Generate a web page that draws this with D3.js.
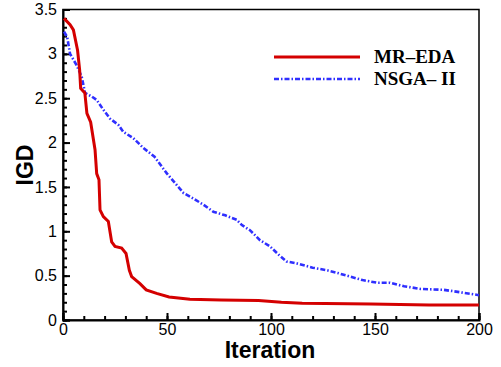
<!DOCTYPE html>
<html>
<head>
<meta charset="utf-8">
<script src="https://cdn.jsdelivr.net/npm/d3@7"></script>
<style>
  body { margin: 0; background: #fff; }
  .axis text { font-family: "Liberation Sans", Arial, sans-serif; font-size: 16px; fill: #000; }
  .axis path, .axis line { stroke: #000; stroke-width: 2px; }
</style>
</head>
<body>
<div id="chart"></div>
<script>
// MR-EDA (red, solid)
var mrIter = [0.5, 3.4, 5, 7, 8, 8.5, 10.5, 11.5, 13.3, 15.4, 16.2, 17.3, 17.8, 19.4, 21.8, 23.4, 25, 28.2, 30.3, 31.9, 33, 37, 40, 45, 51, 61, 76, 94, 105, 115, 148, 176, 200];
var mrIGD  = [3.40, 3.33, 3.27, 3.04, 2.82, 2.61, 2.56, 2.33, 2.23, 1.92, 1.65, 1.58, 1.24, 1.165, 1.11, 0.88, 0.83, 0.81, 0.75, 0.56, 0.49, 0.41, 0.34, 0.30, 0.26, 0.233, 0.225, 0.22, 0.20, 0.19, 0.18, 0.17, 0.17];

// NSGA-II (blue, dash-dot)
var nsIter = [0.5, 2, 3.4, 6.6, 9, 10.6, 13.8, 16.2, 19.4, 22.6, 26.6, 29, 33.8, 38.6, 44, 50, 58, 62.6, 67.5, 72.3, 78, 83.5, 86, 90, 94.7, 99.5, 104, 107.5, 112, 120, 127, 132, 138, 144, 151, 157, 164, 172, 183, 189, 200];
var nsIGD  = [3.25, 3.19, 3.0, 2.87, 2.74, 2.56, 2.52, 2.48, 2.37, 2.27, 2.20, 2.12, 2.05, 1.94, 1.84, 1.65, 1.43, 1.37, 1.30, 1.22, 1.18, 1.13, 1.07, 1.01, 0.90, 0.83, 0.73, 0.66, 0.64, 0.59, 0.56, 0.53, 0.49, 0.45, 0.42, 0.42, 0.38, 0.35, 0.34, 0.32, 0.28];

var xMajor = [0, 50, 100, 150, 200];
var yMajor = [0, 0.5, 1, 1.5, 2, 2.5, 3, 3.5];

var width = 501, height = 367;
var margin = {top: 9.5, right: 22, bottom: 47, left: 63};
var w = width - margin.left - margin.right,
    h = height - margin.top - margin.bottom;

var x = d3.scaleLinear().domain([0, 200]).range([0, w]);
var y = d3.scaleLinear().domain([0, 3.5]).range([h, 0]);

var svg = d3.select("#chart").append("svg")
    .attr("width", width)
    .attr("height", height);
var g = svg.append("g")
    .attr("transform", "translate(" + margin.left + "," + margin.top + ")");

// frame
g.append("rect")
    .attr("width", w).attr("height", h)
    .attr("fill", "none").attr("stroke", "#000").attr("stroke-width", 1.5);

// minor ticks
g.append("g").attr("class", "axis")
    .attr("transform", "translate(0," + h + ")")
    .call(d3.axisBottom(x).tickValues(d3.range(0, 201, 10)).tickSize(-4).tickFormat(""))
    .select(".domain").remove();
g.append("g").attr("class", "axis")
    .call(d3.axisLeft(y).tickValues(d3.range(0, 36).map(function(d){ return d / 10; })).tickSize(-4).tickFormat(""))
    .select(".domain").remove();

// major ticks + labels
var xAxis = d3.axisBottom(x).tickValues(xMajor).tickSize(-7).tickPadding(4).tickFormat(d3.format("d"));
var yAxis = d3.axisLeft(y).tickValues(yMajor).tickSize(-7).tickPadding(6).tickFormat(function(d){ return d; });

g.append("g").attr("class", "axis")
    .attr("transform", "translate(0," + h + ")")
    .call(xAxis);
g.append("g").attr("class", "axis")
    .call(yAxis);

// axis titles
svg.append("text")
    .attr("x", 270).attr("y", 358)
    .attr("text-anchor", "middle")
    .style("font-family", "'Liberation Sans', Arial, sans-serif")
    .style("font-weight", "bold")
    .style("font-size", "23px")
    .text("Iteration");

svg.append("text")
    .attr("transform", "translate(33,165) rotate(-90)")
    .attr("text-anchor", "middle")
    .style("font-family", "'Liberation Sans', Arial, sans-serif")
    .style("font-weight", "bold")
    .style("font-size", "23px")
    .text("IGD");

// lines
var line = d3.line()
    .x(function(d) { return x(d[0]); })
    .y(function(d) { return y(d[1]); });

g.append("path")
    .datum(d3.zip(nsIter, nsIGD))
    .attr("fill", "none")
    .attr("stroke", "#2f2fff")
    .attr("stroke-width", 2.6)
    .attr("stroke-dasharray", "5,2,1.5,2")
    .attr("d", line);

g.append("path")
    .datum(d3.zip(mrIter, mrIGD))
    .attr("fill", "none")
    .attr("stroke", "#d40000")
    .attr("stroke-width", 3)
    .attr("d", line);

// legend
var legend = svg.append("g");
legend.append("line")
    .attr("x1", 274).attr("x2", 360).attr("y1", 57).attr("y2", 57)
    .attr("stroke", "#d40000").attr("stroke-width", 3);
legend.append("line")
    .attr("x1", 274).attr("x2", 360).attr("y1", 79).attr("y2", 79)
    .attr("stroke", "#2f2fff").attr("stroke-width", 2.6)
    .attr("stroke-dasharray", "5,2,1.5,2");
legend.selectAll("text.leg")
    .data(["MR\u2013EDA", "NSGA\u2013 II"])
    .enter().append("text")
    .attr("x", 374)
    .attr("y", function(d, i) { return 63 + i * 22; })
    .style("font-family", "'Liberation Serif', 'Times New Roman', serif")
    .style("font-weight", "bold")
    .style("font-size", "19px")
    .text(function(d) { return d; });
</script>
</body>
</html>
